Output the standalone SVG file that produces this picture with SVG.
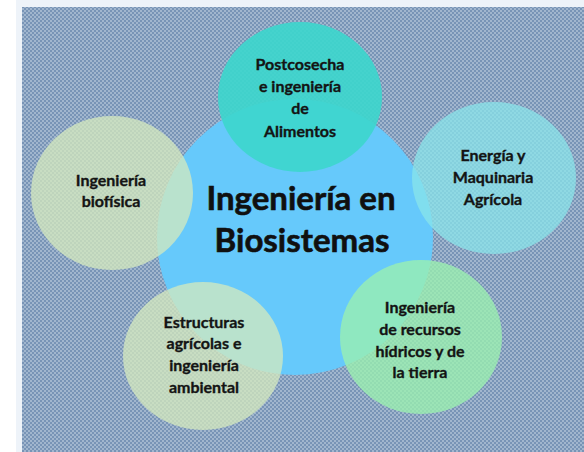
<svg xmlns="http://www.w3.org/2000/svg" width="584" height="452" viewBox="0 0 584 452">
  <defs>
    <pattern id="bgpat" x="0" y="0" width="4" height="4" patternUnits="userSpaceOnUse">
      <rect width="4" height="4" fill="#a1b6ce"/>
      <rect width="2" height="2" fill="#7894b6"/>
      <rect x="2" y="2" width="2" height="2" fill="#7894b6"/>
    </pattern>
  </defs>
  <style>
    .lbl { font-family: Lato, "Open Sans", "Liberation Sans", sans-serif; font-weight: bold; font-size: 16px; fill: #141414; stroke: #141414; stroke-width: 0.35px; text-anchor: middle; }
    .title { font-family: Lato, "Open Sans", "Liberation Sans", sans-serif; font-weight: bold; font-size: 33px; fill: #101010; stroke: #101010; stroke-width: 0.6px; text-anchor: middle; }
  </style>
  <rect x="0" y="0" width="584" height="452" fill="#ffffff"/>
  <rect x="16" y="0" width="568" height="452" fill="#eef3f9"/>
  <rect x="22" y="7" width="562" height="445" fill="url(#bgpat)"/>

  <g id="center">
    <circle cx="295" cy="237" r="138" fill="#66c9fb"/>
  </g>
  <g id="n-top">
    <ellipse cx="300" cy="97" rx="82" ry="75" fill="#3dd6cd" fill-opacity="0.92"/>
  </g>
  <g id="n-left">
    <ellipse cx="112" cy="193" rx="81" ry="77" fill="#d6e9be" fill-opacity="0.75"/>
  </g>
  <g id="n-right">
    <ellipse cx="494" cy="178" rx="82" ry="76" fill="#8ae4ea" fill-opacity="0.75"/>
  </g>
  <g id="n-bl">
    <ellipse cx="203" cy="356" rx="80" ry="74" fill="#d6e9be" fill-opacity="0.75"/>
  </g>
  <g id="n-br">
    <ellipse cx="421" cy="337" rx="81" ry="77" fill="#9bf1af" fill-opacity="0.78"/>
  </g>
  <g id="connectors"></g>

  <g id="labels">
    <text class="title" x="301" y="210">Ingeniería en</text>
    <text class="title" x="302" y="252">Biosistemas</text>

    <text class="lbl" x="300" y="70">Postcosecha</text>
    <text class="lbl" x="300" y="92">e ingeniería</text>
    <text class="lbl" x="300" y="114">de</text>
    <text class="lbl" x="300" y="137">Alimentos</text>

    <text class="lbl" x="111" y="186">Ingeniería</text>
    <text class="lbl" x="111" y="207">biofísica</text>

    <text class="lbl" x="493" y="161">Energía y</text>
    <text class="lbl" x="493" y="183">Maquinaria</text>
    <text class="lbl" x="493" y="205">Agrícola</text>

    <text class="lbl" x="204" y="328">Estructuras</text>
    <text class="lbl" x="204" y="349">agrícolas e</text>
    <text class="lbl" x="204" y="371">ingeniería</text>
    <text class="lbl" x="204" y="393">ambiental</text>

    <text class="lbl" x="420" y="313">Ingeniería</text>
    <text class="lbl" x="420" y="335">de recursos</text>
    <text class="lbl" x="420" y="357">hídricos y de</text>
    <text class="lbl" x="420" y="378">la tierra</text>
  </g>
</svg>
